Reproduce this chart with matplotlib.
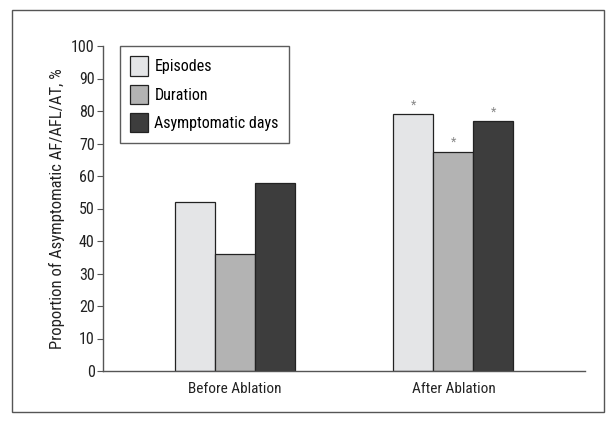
import matplotlib
matplotlib.use("Agg")
import matplotlib.pyplot as plt
from matplotlib.patches import Rectangle
from matplotlib import font_manager

names = {f.name for f in font_manager.fontManager.ttflist}
pref = ['Roboto Condensed', 'Archivo Narrow', 'PT Sans Narrow', 'Liberation Sans Narrow',
        'Fira Sans Condensed', 'Roboto']
fam = [n for n in pref if n in names][:1]
plt.rcParams['font.family'] = fam + ['DejaVu Sans']

groups = ["Before Ablation", "After Ablation"]
series = ["Episodes", "Duration", "Asymptomatic days"]
episodes = [52, 79]
duration = [36, 67.5]
asym_days = [58, 77]
significant = [[False, True], [False, True], [False, True]]
yticks = list(range(0, 101, 10))

colors = ["#e4e5e7", "#b3b3b3", "#3d3d3d"]
fig = plt.figure(figsize=(6.15, 4.24), dpi=100)
fig.patches.append(Rectangle((12/615, 1-412/424), 592/615, 402/424, transform=fig.transFigure,
                             fill=False, edgecolor="#555555", linewidth=1.0))
ax = fig.add_axes([103/615, 1-371/424, 482/615, 325/424])
w = 0.183
vals = [episodes, duration, asym_days]
for i, (name, v, c) in enumerate(zip(series, vals, colors)):
    xs = [g + (i - 1) * w for g in range(len(groups))]
    ax.bar(xs, v, width=w, color=c, edgecolor="#222222", linewidth=0.9, label=name, zorder=2)
    for x, val, s in zip(xs, v, significant[i]):
        if s:
            ax.text(x, val + 0.8, "*", ha="center", va="bottom", fontsize=9, color="#888888")

ax.set_xlim(-0.604, 1.602)
ax.set_ylim(0, 100)
ax.set_yticks(yticks)
ax.set_xticks(range(len(groups)))
ax.set_xticklabels(groups, fontsize=11, color="#222222")
ax.tick_params(axis='x', length=0, pad=8)
ax.tick_params(axis='y', length=4, width=0.8, color="#555555", labelsize=11.5, labelcolor="#222222", pad=2)
for s in ["top", "right"]:
    ax.spines[s].set_visible(False)
for s in ["left", "bottom"]:
    ax.spines[s].set_color("#555555")
    ax.spines[s].set_linewidth(1.0)
ax.set_ylabel("Proportion of Asymptomatic AF/AFL/AT, %", fontsize=12, color="#222222", labelpad=4)
leg = ax.legend(loc="upper left", bbox_to_anchor=(17/482, 1.0), frameon=True, fancybox=False,
                edgecolor="#333333", fontsize=11.5, handlelength=1.1, handleheight=1.5,
                handletextpad=0.4, labelspacing=0.55, borderpad=0.65, borderaxespad=0)
leg.get_frame().set_linewidth(1.0)
fig.savefig("out.png", dpi=100)
